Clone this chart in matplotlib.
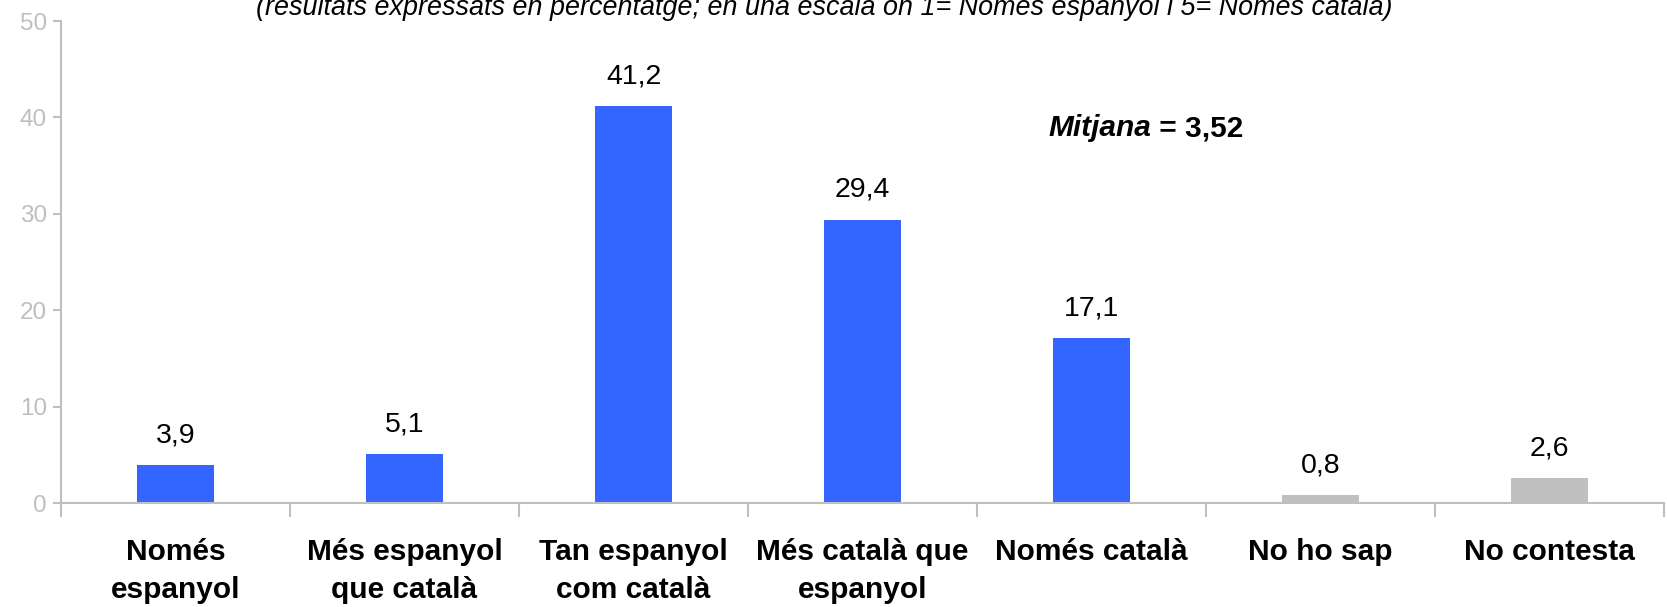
import matplotlib.pyplot as plt
import numpy as np

categories = ['Només\nespanyol', 'Més espanyol\nque català', 'Tan espanyol\ncom català',
              'Més català que\nespanyol', 'Només català', 'No ho sap', 'No contesta']
values = [3.9, 5.1, 41.2, 29.4, 17.1, 0.8, 2.6]
value_labels = ['3,9', '5,1', '41,2', '29,4', '17,1', '0,8', '2,6']
yticks = [0, 10, 20, 30, 40, 50]
subtitle = '(resultats expressats en percentatge; en una escala on 1= Només espanyol i 5= Només català)'

blue = '#3366FF'
grey_bar = '#C0C0C0'
axis_col = '#BFBFBF'
colors = [blue] * 5 + [grey_bar] * 2

plt.rcParams['font.family'] = ['Liberation Sans', 'DejaVu Sans']

fig = plt.figure(figsize=(16.67, 6.07), dpi=100)
ax = fig.add_axes([61 / 1667, 1 - 503 / 607, 1603 / 1667, (503 - 21) / 607])

x = np.arange(len(values))
ax.bar(x, values, width=0.34, color=colors)

for xi, v, lab in zip(x, values, value_labels):
    ax.annotate(lab, (xi, v), xytext=(0, 12), textcoords='offset points',
                ha='center', va='bottom', fontsize=20.5)

ax.set_xlim(-0.5, len(values) - 0.5)
ax.set_ylim(0, 50)
ax.set_yticks(yticks)
ax.set_yticklabels([str(t) for t in yticks], color=axis_col, fontsize=17.5)

# ticks on the boundaries, labels on the centres
ax.set_xticks(np.arange(len(values) + 1) - 0.5)
ax.set_xticklabels([])
ax.set_xticks(x, minor=True)
ax.set_xticklabels(categories, minor=True, fontsize=21.5, fontweight='bold', linespacing=1.45)
ax.tick_params(axis='x', which='major', length=10, width=1.5, color=axis_col, direction='out')
ax.tick_params(axis='x', which='minor', length=0, pad=25)
ax.tick_params(axis='y', length=6, width=1.5, color=axis_col, pad=4)

for s in ['top', 'right']:
    ax.spines[s].set_visible(False)
for s in ['left', 'bottom']:
    ax.spines[s].set_color(axis_col)
    ax.spines[s].set_linewidth(1.5)

# subtitle is cut at the top edge, as in the original
fig.text(824 / 1667, 1 - 15 / 607, subtitle, ha='center', va='baseline', fontsize=19.4,
         style='italic', family=['Liberation Sans Narrow', 'Liberation Sans'])

ax.text(0.68, 0.778, 'Mitjana', transform=ax.transAxes,
        ha='right', va='center', fontsize=21.5, fontweight='bold', style='italic')
ax.text(0.68, 0.778, ' = 3,52', transform=ax.transAxes,
        ha='left', va='center', fontsize=21.5, fontweight='bold')

fig.savefig('out.png', dpi=100)
